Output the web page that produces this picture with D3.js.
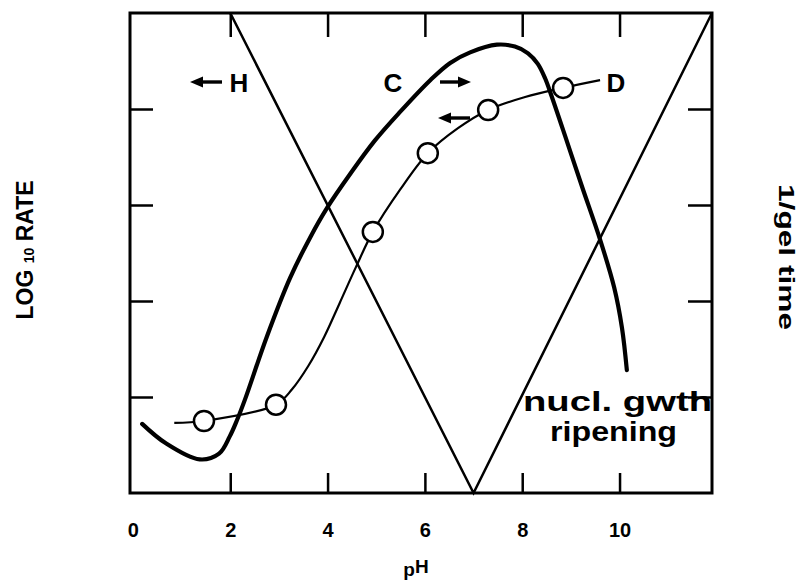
<!DOCTYPE html>
<html>
<head>
<meta charset="utf-8">
<script src="https://cdn.jsdelivr.net/npm/d3@7"></script>
<style>
  html, body { margin: 0; padding: 0; background: #fff; }
  svg { display: block; }
  text { font-family: "Liberation Sans", Arial, sans-serif; fill: #000; }
</style>
</head>
<body>
<svg id="chart" width="800" height="582"></svg>
<script>
// ---------- data ----------
const xTickValues = [2, 4, 6, 8, 10];
const xTickLabels = [0, 2, 4, 6, 8, 10];
const yTickValues = [1, 2, 3, 4];

// curve C (thick)
const curveC_pH  = [0.19, 0.67, 1.37, 1.77, 1.99, 2.14, 2.30, 2.75, 3.23, 3.64, 3.99, 4.46, 4.97, 5.49, 6.11, 6.52, 6.93, 7.48, 7.85, 8.12, 8.32, 8.47, 8.61, 8.92, 9.23, 9.60, 9.89, 10.05, 10.15];
const curveC_val = [0.72, 0.52, 0.35, 0.41, 0.59, 0.76, 0.97, 1.625, 2.24, 2.66, 2.97, 3.32, 3.67, 3.97, 4.30, 4.48, 4.59, 4.67, 4.65, 4.58, 4.47, 4.32, 4.125, 3.66, 3.19, 2.64, 2.14, 1.72, 1.28];

// curve D (thin, with open circles)
const curveD_pH  = [0.85, 1.46, 2.94, 3.27, 3.60, 3.93, 4.25, 4.58, 4.93, 5.49, 6.06, 6.68, 7.30, 8.06, 8.84, 9.60];
const curveD_val = [0.73, 0.75, 0.92, 1.08, 1.32, 1.625, 1.98, 2.35, 2.72, 3.16, 3.54, 3.80, 3.99, 4.125, 4.22, 4.30];
const markersD_pH  = [1.46, 2.94, 4.93, 6.06, 7.30, 8.84];
const markersD_val = [0.75, 0.92, 2.72, 3.54, 3.99, 4.22];

// gel time V (H line + right branch)
const gelV_pH  = [2, 7, 11.9];
const gelV_val = [5, 0, 5];

// ---------- scales ----------
const svg = d3.select("#chart");
const x = d3.scaleLinear().domain([-0.06, 11.9]).range([130, 712]);
const y = d3.scaleLinear().domain([0, 5]).range([493, 13]);

const plot = svg.append("g");

// frame
plot.append("rect")
  .attr("x", x.range()[0]).attr("y", y.range()[1])
  .attr("width", x.range()[1] - x.range()[0])
  .attr("height", y.range()[0] - y.range()[1])
  .attr("fill", "none").attr("stroke", "#000").attr("stroke-width", 3);

// ticks (inward)
const axB = svg.append("g").attr("transform", `translate(0,${y(0)})`)
  .call(d3.axisBottom(x).tickValues(xTickValues).tickSize(-20).tickSizeOuter(0).tickFormat(""));
const axT = svg.append("g").attr("transform", `translate(0,${y(5)})`)
  .call(d3.axisTop(x).tickValues(xTickValues).tickSize(-24).tickSizeOuter(0).tickFormat(""));
const axL = svg.append("g").attr("transform", `translate(${x.range()[0]},0)`)
  .call(d3.axisLeft(y).tickValues(yTickValues).tickSize(-23).tickSizeOuter(0).tickFormat(""));
const axR = svg.append("g").attr("transform", `translate(${x.range()[1]},0)`)
  .call(d3.axisRight(y).tickValues(yTickValues).tickSize(-24).tickSizeOuter(0).tickFormat(""));
[axB, axT, axL, axR].forEach(g => {
  g.select(".domain").remove();
  g.selectAll(".tick line").attr("stroke", "#000").attr("stroke-width", 2.5);
});

// tick labels
const axLab = svg.append("g").attr("transform", `translate(0,${y(0)})`)
  .call(d3.axisBottom(x).tickValues(xTickLabels).tickSize(0).tickPadding(30).tickFormat(d3.format("d")));
axLab.select(".domain").remove();
axLab.selectAll("text")
  .style("font-family", "'Liberation Sans', Arial, sans-serif")
  .attr("font-size", 20).attr("font-weight", "bold").attr("fill", "#000");

// ---------- lines ----------
const lineGen = d3.line().x(d => x(d[0])).y(d => y(d[1]));
const smooth = d3.line().x(d => x(d[0])).y(d => y(d[1])).curve(d3.curveCatmullRom.alpha(0.5));

const gelV = gelV_pH.map((p, i) => [p, gelV_val[i]]);
plot.append("path").datum(gelV).attr("d", lineGen)
  .attr("fill", "none").attr("stroke", "#000").attr("stroke-width", 2.5);

const dataC = curveC_pH.map((p, i) => [p, curveC_val[i]]);
plot.append("path").datum(dataC).attr("d", smooth)
  .attr("fill", "none").attr("stroke", "#000").attr("stroke-width", 4.2).attr("stroke-linecap", "round");

const dataD = curveD_pH.map((p, i) => [p, curveD_val[i]]);
plot.append("path").datum(dataD).attr("d", smooth)
  .attr("fill", "none").attr("stroke", "#000").attr("stroke-width", 2.2);

const markD = markersD_pH.map((p, i) => [p, markersD_val[i]]);
plot.selectAll("circle.d").data(markD).enter().append("circle")
  .attr("class", "d")
  .attr("cx", d => x(d[0])).attr("cy", d => y(d[1])).attr("r", 10)
  .attr("fill", "#fff").attr("stroke", "#000").attr("stroke-width", 2.5);

// ---------- labels ----------
function arrow(x1, x2, yy) {
  const dir = Math.sign(x2 - x1);
  const headLen = 13, hw = 5.5;
  const hb = x2 - dir * headLen;
  svg.append("line").attr("x1", x1).attr("y1", yy).attr("x2", hb).attr("y2", yy)
    .attr("stroke", "#000").attr("stroke-width", 3.4);
  svg.append("path")
    .attr("d", `M${x2},${yy} L${hb},${yy - hw} L${hb},${yy + hw} Z`)
    .attr("fill", "#000");
}
arrow(222, 190, 82);   // H arrow (left)
arrow(440, 471, 82);   // C arrow (right)
arrow(470, 438, 118);  // D arrow (left)

const bigLab = [
  {t: "H", x: 239, y: 92},
  {t: "C", x: 393, y: 92},
  {t: "D", x: 616, y: 92}
];
svg.selectAll("text.big").data(bigLab).enter().append("text")
  .attr("class", "big")
  .attr("x", d => d.x).attr("y", d => d.y)
  .attr("text-anchor", "middle").attr("font-size", 26).attr("font-weight", "bold")
  .text(d => d.t);

svg.append("text").attr("x", 523).attr("y", 411)
  .attr("font-size", 28).attr("font-weight", "bold")
  .attr("textLength", 189).attr("lengthAdjust", "spacingAndGlyphs")
  .text("nucl. gwth");
svg.append("text").attr("x", 550).attr("y", 441)
  .attr("font-size", 28).attr("font-weight", "bold")
  .attr("textLength", 127).attr("lengthAdjust", "spacingAndGlyphs")
  .text("ripening");

// axis titles
const pH = svg.append("text").attr("x", 416).attr("y", 573)
  .attr("text-anchor", "middle").attr("font-size", 19).attr("font-weight", "bold");
pH.append("tspan").attr("dy", 3).text("p");
pH.append("tspan").attr("dy", -3).text("H");

const yl = svg.append("text")
  .attr("transform", "translate(33,250) rotate(-90)")
  .attr("text-anchor", "middle").attr("font-size", 23).attr("font-weight", "bold");
yl.append("tspan").text("LOG ");
yl.append("tspan").attr("font-size", 14).attr("dy", 1).text("10");
yl.append("tspan").attr("dy", -1).text(" RATE");

svg.append("text")
  .attr("transform", "translate(779,257) rotate(90)")
  .attr("text-anchor", "middle").attr("font-size", 22).attr("font-weight", "bold")
  .attr("textLength", 146).attr("lengthAdjust", "spacingAndGlyphs")
  .text("1/gel time");
</script>
</body>
</html>
